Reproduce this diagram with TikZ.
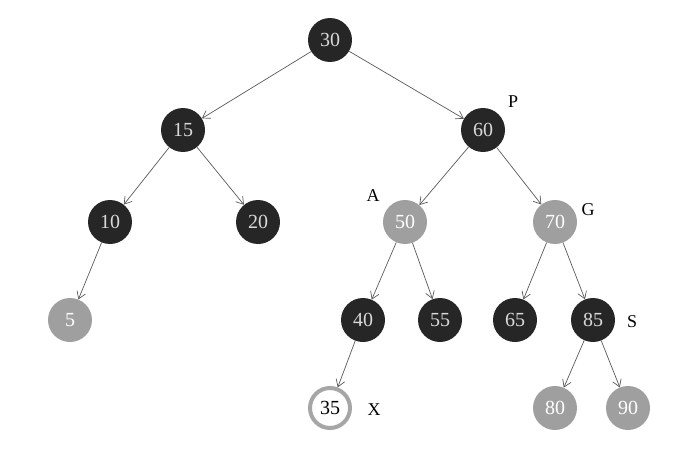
\documentclass[tikz,border=0pt]{standalone}
\usepackage{fontspec}
\setmainfont{Liberation Serif}
\usetikzlibrary{arrows.meta}
\begin{document}
\begin{tikzpicture}[x=1pt,y=-1pt,
 n/.style={circle,minimum size=44pt,inner sep=0pt,font=\fontsize{20}{20}\selectfont},
 blk/.style={n,fill=black!85,text=white!85!black},
 gry/.style={n,fill=gray!75,text=white},
 new/.style={n,fill=white,draw=gray!70,line width=4pt,minimum size=40pt,text=black},
 lab/.style={font=\fontsize{18}{18}\selectfont},
 e/.style={-{Straight Barb[length=7pt,width=9pt]},gray!70!black,line width=0.7pt}]
\useasboundingbox (0,0) rectangle (688,452);
\node[blk] (n30) at (330,40) {30};
\node[blk] (n15) at (183,130) {15};
\node[blk] (n60) at (483,130) {60};
\node[blk] (n10) at (110,222) {10};
\node[blk] (n20) at (258,222) {20};
\node[gry] (n50) at (405,222) {50};
\node[gry] (n70) at (555,222) {70};
\node[gry] (n5) at (70,320) {5};
\node[blk] (n40) at (363,320) {40};
\node[blk] (n55) at (440,320) {55};
\node[blk] (n65) at (515,320) {65};
\node[blk] (n85) at (593,320) {85};
\node[new] (n35) at (330,408) {35};
\node[gry] (n80) at (555,408) {80};
\node[gry] (n90) at (628,408) {90};
\node[lab] (lP) at (513,102) {P};
\node[lab] (lA) at (373,196) {A};
\node[lab] (lG) at (588,210) {G};
\node[lab] (lS) at (632,322) {S};
\node[lab] (lX) at (374,410) {X};
\foreach \a/\b in {30/15,30/60,15/10,15/20,60/50,60/70,10/5,50/40,50/55,70/65,70/85,40/35,85/80,85/90}
  \draw[e] (n\a) -- (n\b);
\end{tikzpicture}
\end{document}
